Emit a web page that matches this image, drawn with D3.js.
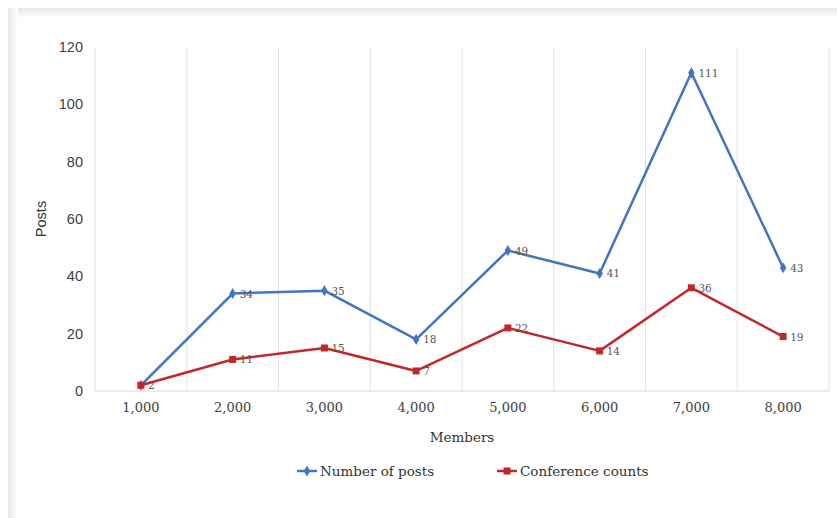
<!DOCTYPE html>
<html>
<head>
<meta charset="utf-8">
<script src="https://cdn.jsdelivr.net/npm/d3@7"></script>
<style>
  html, body { margin: 0; padding: 0; background: #fff; }
  svg { display: block; }
</style>
</head>
<body>
<svg id="chart" width="837" height="518"></svg>
<script>
// Members (x categories) and the two series
const members = ["1,000", "2,000", "3,000", "4,000", "5,000", "6,000", "7,000", "8,000"];
const posts = [2, 34, 35, 18, 49, 41, 111, 43];
const conferences = [2, 11, 15, 7, 22, 14, 36, 19];
const yTicks = [0, 20, 40, 60, 80, 100, 120];
const seriesNames = ["Number of posts", "Conference counts"];

const W = 837, H = 518;
const margin = { left: 95, right: 8, top: 47, bottom: 127 };
const svg = d3.select("#chart");
const SERIF = "'DejaVu Serif', 'Liberation Serif', serif";
const SANS = "'Liberation Sans', Arial, sans-serif";

// soft frame shadow along the top and left edges
const defs = svg.append("defs");
const gl = defs.append("linearGradient").attr("id", "shL").attr("x1", 0).attr("x2", 1).attr("y1", 0).attr("y2", 0);
gl.append("stop").attr("offset", 0).attr("stop-color", "#e6e6e6");
gl.append("stop").attr("offset", 1).attr("stop-color", "#ffffff");
const gt = defs.append("linearGradient").attr("id", "shT").attr("x1", 0).attr("x2", 0).attr("y1", 0).attr("y2", 1);
gt.append("stop").attr("offset", 0).attr("stop-color", "#e6e6e6");
gt.append("stop").attr("offset", 1).attr("stop-color", "#ffffff");
svg.append("rect").attr("x", 8).attr("y", 8).attr("width", W - 8).attr("height", 10).attr("fill", "url(#shT)");
svg.append("rect").attr("x", 8).attr("y", 8).attr("width", 10).attr("height", H - 8).attr("fill", "url(#shL)");

const x = d3.scaleBand().domain(members).range([margin.left, W - margin.right]);
const y = d3.scaleLinear().domain([0, 120]).range([H - margin.bottom, margin.top]);

// vertical gridlines at category boundaries
const bounds = members.map(m => x(m)).concat([x.range()[1]]);
svg.append("g").selectAll("line").data(bounds).join("line")
  .attr("x1", d => d).attr("x2", d => d)
  .attr("y1", y(120)).attr("y2", y(0))
  .attr("stroke", "#e3e3e3").attr("stroke-width", 1);

// baseline
svg.append("line")
  .attr("x1", x.range()[0]).attr("x2", x.range()[1])
  .attr("y1", y(0)).attr("y2", y(0))
  .attr("stroke", "#d9d9d9").attr("stroke-width", 1);

// y axis labels
const yAxis = d3.axisLeft(y).tickValues(yTicks).tickSize(0).tickPadding(12);
const yg = svg.append("g").attr("transform", `translate(${margin.left},0)`).call(yAxis);
yg.select(".domain").remove();
yg.selectAll("text")
  .attr("font-family", SANS)
  .attr("font-size", 14.5).attr("fill", "#404040");

// x axis labels
const xAxis = d3.axisBottom(x).tickSize(0).tickPadding(12);
const xg = svg.append("g").attr("transform", `translate(0,${y(0)})`).call(xAxis);
xg.select(".domain").remove();
xg.selectAll("text")
  .attr("font-family", SERIF)
  .attr("font-size", 13).attr("fill", "#404040");

// axis titles
svg.append("text")
  .attr("x", 462).attr("y", 442)
  .attr("text-anchor", "middle")
  .attr("font-family", SERIF).attr("font-size", 13.5).attr("fill", "#333")
  .text("Members");
svg.append("text")
  .attr("transform", `translate(46,${(y(0) + y(120)) / 2}) rotate(-90)`)
  .attr("text-anchor", "middle")
  .attr("font-family", SANS).attr("font-size", 14.5).attr("fill", "#333")
  .text("Posts");

const cx = m => x(m) + x.bandwidth() / 2;
const line = d3.line().x(d => cx(d.m)).y(d => y(d.v));

const series = [
  { name: seriesNames[0], values: posts, color: "#4174c4", shape: d3.symbolDiamond, size: 36 },
  { name: seriesNames[1], values: conferences, color: "#c0282b", shape: d3.symbolSquare, size: 49 }
];

series.forEach((s, si) => {
  const pts = members.map((m, i) => ({ m, v: s.values[i] }));
  const g = svg.append("g");
  g.append("path").datum(pts)
    .attr("d", line).attr("fill", "none")
    .attr("stroke", s.color).attr("stroke-width", 2.5).attr("stroke-linejoin", "round");
  g.selectAll("path.mk").data(pts).join("path").attr("class", "mk")
    .attr("transform", d => `translate(${cx(d.m)},${y(d.v)})`)
    .attr("d", d3.symbol().type(s.shape).size(s.size))
    .attr("fill", s.color);
  // value labels (the first posts value sits under the conference marker)
  g.selectAll("text").data(pts.filter((d, i) => !(si === 0 && i === 0))).join("text")
    .attr("x", d => cx(d.m) + 7).attr("y", d => y(d.v) + 4)
    .attr("font-family", SERIF)
    .attr("font-size", 10.5).attr("fill", "#555")
    .text(d => d.v);
});

// legend
const legX = [297, 497];
series.forEach((s, i) => {
  const g = svg.append("g").attr("transform", `translate(${legX[i]},471)`);
  g.append("line").attr("x1", 0).attr("x2", 20).attr("y1", 0).attr("y2", 0)
    .attr("stroke", s.color).attr("stroke-width", 2.5);
  g.append("path").attr("transform", "translate(10,0)")
    .attr("d", d3.symbol().type(s.shape).size(s.size)).attr("fill", s.color);
  g.append("text").attr("x", 23).attr("y", 5)
    .attr("font-family", SERIF)
    .attr("font-size", 13.5).attr("fill", "#333")
    .text(s.name);
});
</script>
</body>
</html>
